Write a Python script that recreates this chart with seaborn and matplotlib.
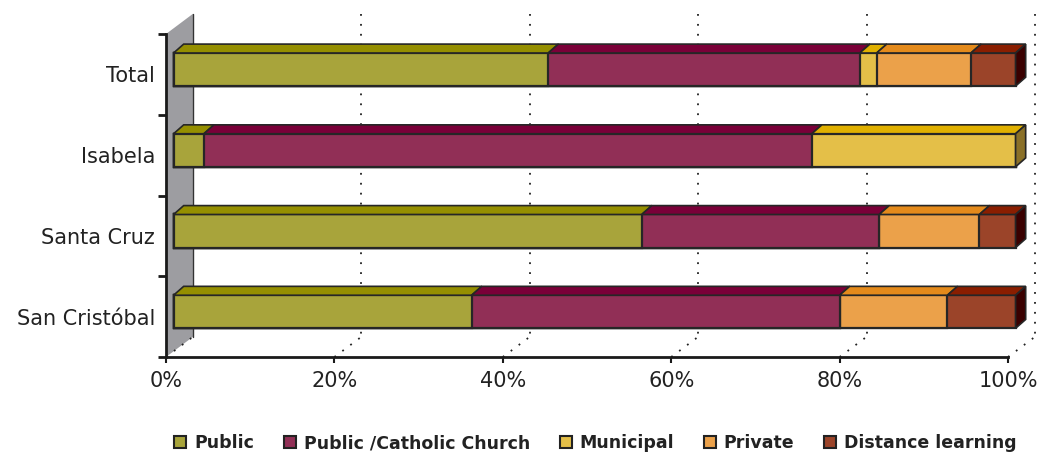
import numpy as np
import pandas as pd
import matplotlib
matplotlib.use("Agg")
import matplotlib.pyplot as plt
from matplotlib.patches import Polygon
from matplotlib.lines import Line2D
import seaborn as sns

# ---------------- data ----------------
categories = ["Total", "Isabela", "Santa Cruz", "San Cristóbal"]
series_names = ["Public", "Public /Catholic Church", "Municipal", "Private", "Distance learning"]
public = [44.5, 3.6, 55.6, 35.4]
catholic = [37.0, 72.2, 28.2, 43.7]
municipal = [2.0, 24.2, 0.0, 0.0]
private = [11.2, 0.0, 11.9, 12.8]
distance = [5.3, 0.0, 4.3, 8.1]
x_ticks = [0, 20, 40, 60, 80, 100]
x_tick_labels = ["0%", "20%", "40%", "60%", "80%", "100%"]

front_colors = ["#a8a43b", "#912f56", "#e4bf48", "#eba14a", "#9b4429"]
top_colors = ["#958f00", "#7a0038", "#e0b000", "#e48a1b", "#8a1e00"]
side_colors = {"Distance learning": "#3a0000", "Municipal": "#8a7028"}
edge = "#262626"

sns.set_theme(style="white")
plt.rcParams["font.family"] = ["DejaVu Sans"]

values = [public, catholic, municipal, private, distance]
cum = np.cumsum(np.array(values), axis=0)  # shape (5, 4)

rows = []
for si, name in enumerate(series_names):
    for ci, cat in enumerate(categories):
        rows.append({"region": cat, "type": name, "value": values[si][ci],
                     "cum": cum[si, ci], "start": cum[si, ci] - values[si][ci]})
df = pd.DataFrame(rows)

fig = plt.figure(figsize=(10.4, 4.57), dpi=100)
ax = fig.add_axes([166 / 1040, 100 / 457, 842 / 1040, 323 / 457])

# geometry (data units)
bar_h = 0.41
bar_dx, bar_dy = 0.9, -0.06      # bar front face offset from axis plane
depth_dx, depth_dy = 1.2, -0.11  # bar depth
wall_dx, wall_dy = 3.2, -0.25    # back wall offset

# left wall
wall = Polygon([(0, -0.5), (wall_dx, -0.5 + wall_dy), (wall_dx, 3.5 + wall_dy), (0, 3.5)],
               closed=True, facecolor="#9d9da1", edgecolor="none", clip_on=False, zorder=0)
ax.add_patch(wall)
ax.plot([wall_dx, wall_dx], [-0.5 + wall_dy, 3.5 + wall_dy], color="#333333", lw=1.0,
        clip_on=False, zorder=0.5)

# back gridlines and floor diagonals
dot = (0, (1, 4.5))
for xv in x_ticks:
    if xv > 0:
        ax.plot([xv + wall_dx, xv + wall_dx], [-0.5 + wall_dy, 3.5 + wall_dy], color="#222222",
                lw=1.3, linestyle=dot, clip_on=False, zorder=0.5)
    ax.plot([xv, xv + wall_dx], [3.5, 3.5 + wall_dy], color="#222222", lw=1.3,
            linestyle=dot, clip_on=False, zorder=0.5)

# front faces via seaborn (draw largest cumulative first)
order_rev = series_names[::-1]
pal = dict(zip(series_names, front_colors))
sns.barplot(data=df, x="cum", y="region", hue="type", hue_order=order_rev, order=categories,
            dodge=False, palette=pal, width=bar_h, edgecolor=edge, linewidth=1.6,
            saturation=1, legend=False, ax=ax, zorder=2)
for p in ax.patches:
    if p is wall:
        continue
    p.set_x(p.get_x() + bar_dx)
    p.set_y(p.get_y() + bar_dy)
    p.set_clip_on(False)

# top faces and right side faces
for ci, cat in enumerate(categories):
    yt = ci - bar_h / 2 + bar_dy
    yb = ci + bar_h / 2 + bar_dy
    last = None
    for si, name in enumerate(series_names):
        v = values[si][ci]
        if v <= 0:
            continue
        x0 = cum[si, ci] - v + bar_dx
        x1 = cum[si, ci] + bar_dx
        top = Polygon([(x0, yt), (x1, yt), (x1 + depth_dx, yt + depth_dy), (x0 + depth_dx, yt + depth_dy)],
                      closed=True, facecolor=top_colors[si], edgecolor=edge, lw=1.2,
                      clip_on=False, zorder=3)
        ax.add_patch(top)
        last = (si, name, x1)
    si, name, x1 = last
    side = Polygon([(x1, yt), (x1 + depth_dx, yt + depth_dy), (x1 + depth_dx, yb + depth_dy), (x1, yb)],
                   closed=True, facecolor=side_colors.get(name, "#3a0000"), edgecolor=edge, lw=1.2,
                   clip_on=False, zorder=3)
    ax.add_patch(side)

# axes styling
ax.set_xlim(0, 100)
ax.set_ylim(3.5, -0.5)
ax.set_xlabel("")
ax.set_ylabel("")
for s in ["top", "right"]:
    ax.spines[s].set_visible(False)
for s in ["left", "bottom"]:
    ax.spines[s].set_color("#1a1a1a")
    ax.spines[s].set_linewidth(2)
    ax.spines[s].set_zorder(4)
ax.set_xticks(x_ticks)
ax.set_xticklabels(x_tick_labels)
ax.set_yticks(range(len(categories)))
ax.set_yticklabels(categories)
ax.set_yticks([-0.5, 0.5, 1.5, 2.5, 3.5], minor=True)
ax.tick_params(axis="y", which="major", length=0, pad=8, labelsize=15, labelcolor="#222222")
ax.tick_params(axis="y", which="minor", length=6, width=2, color="#1a1a1a", left=True)
ax.tick_params(axis="x", which="major", length=4, width=1.5, color="#1a1a1a", bottom=True,
               pad=6, labelsize=15, labelcolor="#222222")
ax.grid(False)
ax.set_facecolor("none")

# legend
handles = [Line2D([], [], linestyle="none", marker="s", markersize=8, markerfacecolor=c,
                  markeredgecolor="#222222", markeredgewidth=1.5) for c in front_colors]
fig.legend(handles, series_names, loc="center", bbox_to_anchor=(594 / 1040, 14 / 457),
           ncol=5, frameon=False, prop={"weight": "bold", "size": 12.5},
           handletextpad=0.3, columnspacing=1.55, handlelength=1.0, labelcolor="#222222")

fig.savefig("out.png", dpi=100)
